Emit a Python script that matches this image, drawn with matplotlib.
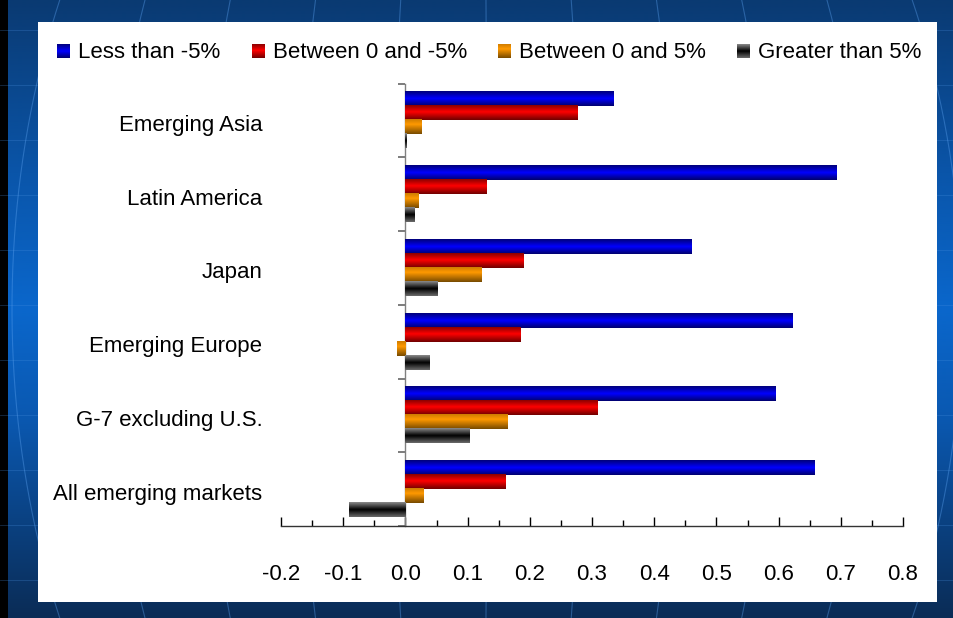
import numpy as np
import matplotlib.pyplot as plt
from matplotlib.colors import LinearSegmentedColormap
from matplotlib.patches import Rectangle
from matplotlib.legend_handler import HandlerBase
from matplotlib.transforms import ScaledTranslation

plt.rcParams['font.family'] = ['Liberation Sans', 'DejaVu Sans']
plt.rcParams['axes.unicode_minus'] = False

# data
regions = ["Emerging Asia", "Latin America", "Japan", "Emerging Europe",
           "G-7 excluding U.S.", "All emerging markets"]
series_names = ["Less than -5%", "Between 0 and -5%",
                "Between 0 and 5%", "Greater than 5%"]
less_than_m5 = [0.335, 0.693, 0.461, 0.623, 0.596, 0.659]
between_0_m5 = [0.277, 0.131, 0.190, 0.186, 0.309, 0.161]
between_0_5 = [0.026, 0.021, 0.123, -0.014, 0.165, 0.029]
greater_than_5 = [0.002, 0.016, 0.052, 0.039, 0.103, -0.091]
x_ticks = [-0.2, -0.1, 0.0, 0.1, 0.2, 0.3, 0.4, 0.5, 0.6, 0.7, 0.8]
x_labels = ["-0.2", "-0.1", "0.0", "0.1", "0.2", "0.3", "0.4",
            "0.5", "0.6", "0.7", "0.8"]

series = [less_than_m5, between_0_m5, between_0_5, greater_than_5]

# shaded "cylinder" look for the bars, listed top edge -> bottom edge
shades = [
    [(0.0, '#00007a'), (0.5, '#0000ff'), (1.0, '#00006e')],
    [(0.0, '#8a0000'), (0.45, '#ff0000'), (1.0, '#700000')],
    [(0.0, '#cf7c00'), (0.35, '#ff9900'), (1.0, '#774a00')],
    [(0.0, '#8a8a8a'), (0.5, '#000000'), (1.0, '#6a6a6a')],
]
cmaps = [LinearSegmentedColormap.from_list('s%d' % i, s) for i, s in enumerate(shades)]

W, H = 954, 618
fig = plt.figure(figsize=(W / 100, H / 100), dpi=100)

# slide background
bg = fig.add_axes([0, 0, 1, 1], zorder=-10)
bg_map = LinearSegmentedColormap.from_list('bg', [
    (0.0, '#0a3a72'), (0.3, '#0a57ad'), (0.5, '#0a67cc'),
    (0.68, '#0a58b0'), (1.0, '#0b2c56')])
bg.imshow(np.linspace(0, 1, 256).reshape(-1, 1), cmap=bg_map, aspect='auto',
          extent=(0, W, H, 0), interpolation='bilinear')
for yl in np.arange(30, H, 55):
    bg.plot([0, W], [yl, yl], color='#4a90e0', lw=0.6, alpha=0.3)
yy = np.linspace(0, H, 200)
for a in np.arange(-560, 561, 95):
    xx = W / 2 + a * np.sqrt(1 - ((yy - H / 2) / 700) ** 2)
    bg.plot(xx, yy, color='#5aa0ee', lw=0.8, alpha=0.4)
bg.add_patch(Rectangle((0, 0), 8, H, facecolor='black', edgecolor='none'))
bg.add_patch(Rectangle((38, 22), 899, 580, facecolor='white', edgecolor='none',
                       zorder=5))
bg.set_xlim(0, W)
bg.set_ylim(H, 0)
bg.axis('off')

# chart
ax = fig.add_axes([281 / W, (H - 526) / H, 622 / W, 442.5 / H])
ax.patch.set_alpha(0)

ypos = np.arange(len(regions))[::-1]
bar_h = 0.19
offsets = [1.5 * bar_h, 0.5 * bar_h, -0.5 * bar_h, -1.5 * bar_h]

for vals, off, cmap in zip(series, offsets, cmaps):
    bars = ax.barh(ypos + off, vals, height=bar_h, color=cmap(0.5),
                   edgecolor='none')
    for b in bars:
        x0, x1 = sorted([b.get_x(), b.get_x() + b.get_width()])
        y0, y1 = b.get_y(), b.get_y() + b.get_height()
        ax.imshow(np.linspace(0, 1, 64).reshape(-1, 1), cmap=cmap,
                  extent=(x0, x1, y0, y1), origin='upper', aspect='auto',
                  interpolation='bilinear', zorder=3)

ax.set_xlim(-0.2, 0.8)
ax.set_ylim(-0.5, 5.5)

ax.spines['top'].set_visible(False)
ax.spines['right'].set_visible(False)
ax.spines['left'].set_position(('data', 0))
ax.spines['left'].set_color('#808080')
ax.spines['left'].set_linewidth(1.0)
ax.spines['bottom'].set_color('#333333')
ax.spines['bottom'].set_linewidth(1.0)

ax.set_xticks(x_ticks, labels=x_labels)
ax.set_xticks(np.arange(-0.15, 0.8, 0.1), minor=True)
ax.tick_params(axis='x', which='major', direction='in', length=6.5,
               width=1, color='black', pad=27, labelsize=16)
ax.tick_params(axis='x', which='minor', direction='in', length=4.3,
               width=1, color='black')

ax.set_yticks(ypos, labels=regions)
ax.set_yticks(np.arange(-0.5, 6, 1), minor=True)
ax.tick_params(axis='y', which='major', length=0, pad=103, labelsize=16)
ax.tick_params(axis='y', which='minor', direction='out', length=5,
               width=1.2, color='#666666')
nudge = ScaledTranslation(0, -2.5 / 100, fig.dpi_scale_trans)
for lab in ax.get_yticklabels():
    lab.set_transform(lab.get_transform() + nudge)


class GradientHandle(HandlerBase):
    def __init__(self, cmap):
        super().__init__()
        self.cmap = cmap

    def create_artists(self, legend, orig_handle, xdescent, ydescent,
                       width, height, fontsize, trans):
        n = 14
        side = width * 1.05
        base = -ydescent + (height - side) / 2
        arts = []
        for k in range(n):
            y = base + side * (1 - (k + 1) / n)
            arts.append(Rectangle((-xdescent, y), width, side / n + 0.05,
                                  facecolor=self.cmap((k + 0.5) / n),
                                  edgecolor='none', transform=trans))
        return arts


proxies = [Rectangle((0, 0), 1, 1) for _ in series_names]
fig.legend(proxies, series_names, loc='center', ncol=4,
           bbox_to_anchor=(489.5 / W, 1 - 53 / H), frameon=False,
           fontsize=16, handlelength=0.585, handletextpad=0.36,
           columnspacing=1.4, borderpad=0,
           handler_map={p: GradientHandle(c) for p, c in zip(proxies, cmaps)})

fig.savefig('out.png', dpi=100)
